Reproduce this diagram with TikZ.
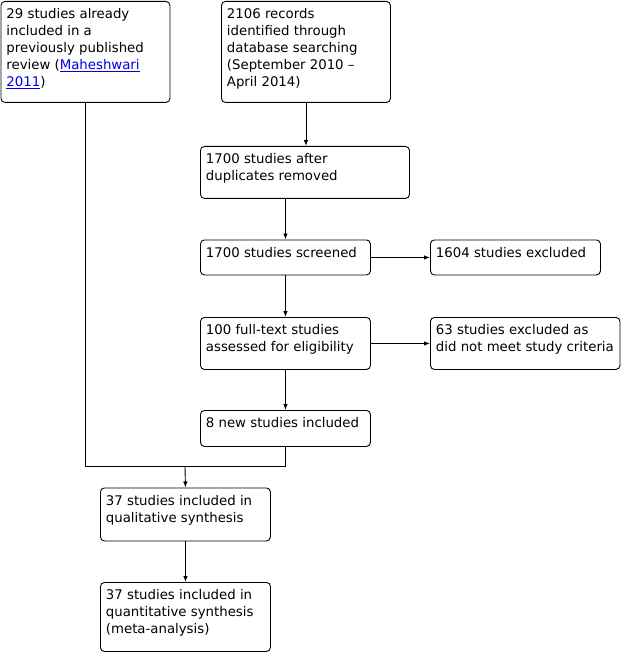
\documentclass[tikz,border=0pt]{standalone}
\usepackage{fontspec}
\setmainfont{DejaVu Sans}
\usetikzlibrary{arrows.meta}
\definecolor{linkblue}{RGB}{0,0,230}
\newcommand\bxline[1]{\hbox to \hsize{\hspace*{5.5pt}#1\hfil}}
\newcommand\bx[4]{\parbox[c][#2][t]{#1}{\fontsize{13.3pt}{16.9pt}\selectfont\hbox to \hsize{\rule{0pt}{17.5pt}\hspace*{5.5pt}#3\hfil}#4}}
\newcommand\lnk[1]{\textcolor{linkblue}{\underline{#1}}}
\tikzset{
  flowbox/.style={draw=black, line width=0.9pt, rounded corners=4pt, inner sep=0pt, anchor=north west},
  conn/.style={draw=black, line width=0.9pt},
  arr/.style={conn, -{Latex[length=6pt,width=4.5pt]}}
}
\begin{document}
\begin{tikzpicture}[x=1pt,y=-1pt]
\useasboundingbox (0,0) rectangle (621,652);
\node[flowbox] (A) at (0.5,1) {\bx{169pt}{101pt}{29 studies already}{\bxline{included in a}\bxline{previously published}\bxline{review (\lnk{Maheshwari}}\bxline{\lnk{2011})}}};
\node[flowbox] (B) at (221,1) {\bx{169pt}{101pt}{2106 records}{\bxline{identified through}\bxline{database searching}\bxline{(September 2010 –}\bxline{April 2014)}}};
\node[flowbox] (C) at (200,146) {\bx{209pt}{52pt}{1700 studies after}{\bxline{duplicates removed}}};
\node[flowbox] (D) at (200,239.5) {\bx{170pt}{35pt}{1700 studies screened}{}};
\node[flowbox] (E) at (430,239.5) {\bx{170pt}{35pt}{1604 studies excluded}{}};
\node[flowbox] (F) at (200,317) {\bx{170pt}{52pt}{100 full-text studies}{\bxline{assessed for eligibility}}};
\node[flowbox] (G) at (430,317) {\bx{189.5pt}{52pt}{63 studies excluded as}{\bxline{did not meet study criteria}}};
\node[flowbox] (H) at (200,410) {\bx{170pt}{36pt}{8 new studies included}{}};
\node[flowbox] (I) at (100,487.5) {\bx{170pt}{53pt}{37 studies included in}{\bxline{qualitative synthesis}}};
\node[flowbox] (J) at (100,582) {\bx{170pt}{69pt}{37 studies included in}{\bxline{quantitative synthesis}\bxline{(meta-analysis)}}};
\coordinate (j) at (185,466.7);
\draw[arr] (B.south) -- (B.south |- C.north);
\draw[arr] (D.north |- C.south) -- (D.north);
\draw[arr] (D.east) -- (E.west);
\draw[arr] (D.south) -- (F.north);
\draw[arr] (F.east) -- (F.east -| G.west);
\draw[arr] (F.south) -- (H.north);
\draw[conn] (A.south) |- (j);
\draw[conn] (H.south) |- (j);
\draw[arr] (j) -- (I.north);
\draw[arr] (I.south) -- (J.north);
\end{tikzpicture}
\end{document}
